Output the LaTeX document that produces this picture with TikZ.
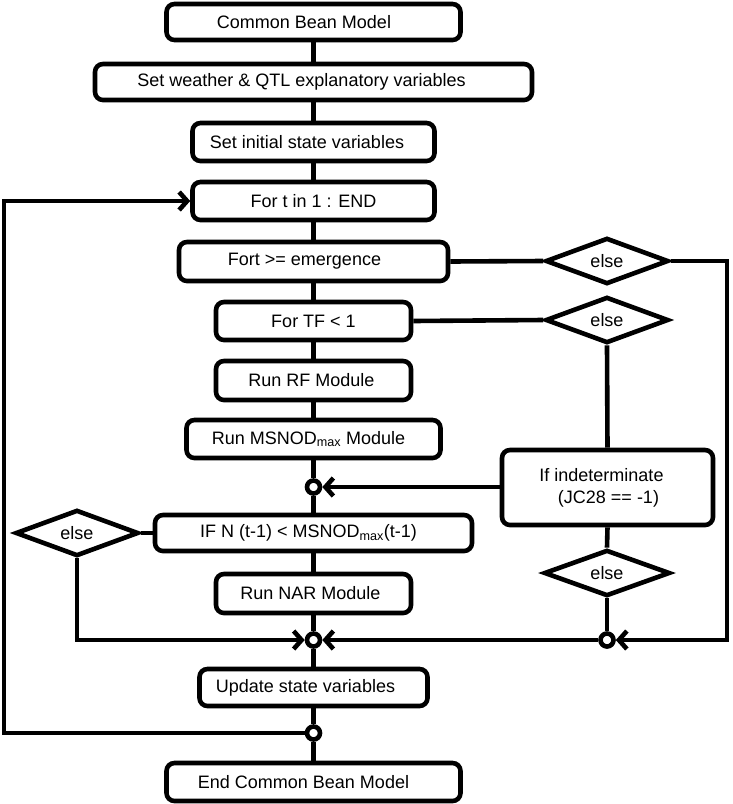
\documentclass[tikz,border=0pt]{standalone}
\usepackage{fontspec}
\setmainfont{Liberation Sans}
\usetikzlibrary{shapes.geometric,arrows.meta}
\begin{document}
\begin{tikzpicture}[x=1pt,y=-1pt,
  line width=4.6pt,
  box/.style={draw, rounded corners=8pt, inner sep=0pt, font=\fontsize{18}{22}\selectfont},
  dia/.style={draw, diamond, inner sep=0pt, font=\fontsize{18}{22}\selectfont},
  junc/.style={draw, circle, fill=white, minimum size=13pt, inner sep=0pt},
  arr/.style={-{Straight Barb[length=8pt,width=18pt]}}
]
\useasboundingbox (0,0) rectangle (733,804);
% main column
\node[box, minimum width=294pt, minimum height=36pt] (b1) at (313.5,22) {Common Bean Model\hspace*{19pt}};
\node[box, minimum width=437pt, minimum height=36pt] (b2) at (313.5,82) {Set weather \& QTL explanatory variables\hspace*{24pt}};
\node[box, minimum width=242pt, minimum height=38pt] (b3) at (313.5,142) {Set initial state variables\hspace*{13pt}};
\node[box, minimum width=242pt, minimum height=38pt] (b4) at (313.5,201) {For t in 1 : END};
\node[box, minimum width=269pt, minimum height=39pt] (b5) at (313.5,261.5) {Fort >= emergence\hspace*{18pt}};
\node[box, minimum width=195pt, minimum height=38pt] (b6) at (313.5,321) {For TF < 1};
\node[box, minimum width=195pt, minimum height=39pt] (b7) at (313.5,380.5) {Run RF Module\hspace*{4pt}};
\node[box, minimum width=254pt, minimum height=38pt] (b8) at (313.5,439) {Run MSNOD\textsubscript{max} Module\hspace*{10pt}};
\node[junc] (c1) at (313.5,487) {};
\node[box, minimum width=317pt, minimum height=36pt] (b9) at (313.5,533) {IF N (t-1) < MSNOD\textsubscript{max}(t-1)\hspace*{10pt}};
\node[box, minimum width=195pt, minimum height=39pt] (b10) at (313.5,593.5) {Run NAR Module\hspace*{6pt}};
\node[junc] (c2) at (313.5,640) {};
\node[box, minimum width=228pt, minimum height=37pt] (b11) at (313.5,687.5) {Update state variables\hspace*{16pt}};
\node[junc] (c3) at (313.5,733) {};
\node[box, minimum width=294pt, minimum height=38pt] (b12) at (313.5,782) {End Common Bean Model\hspace*{20pt}};
% right side
\node[dia, minimum width=123pt, minimum height=41pt] (d1) at (607,261) {else};
\node[dia, minimum width=123pt, minimum height=38pt] (d2) at (607,320) {else};
\node[box, minimum width=211pt, minimum height=75pt, align=center] (bi) at (607.5,487.5) {If indeterminate\hspace*{12pt}\\\hspace*{2pt}(JC28 == -1)};
\node[dia, minimum width=126pt, minimum height=36pt] (d3) at (607,573) {else};
\node[junc] (c2r) at (607,640) {};
% left side
\node[dia, minimum width=123pt, minimum height=36pt] (dl) at (77,533) {else};
\coordinate (lx) at (4,0);
\coordinate (rx) at (727,0);
% connectors main column
\draw (b1.south) -- (b2.north);
\draw (b2.south) -- (b3.north);
\draw (b3.south) -- (b4.north);
\draw (b4.south) -- (b5.north);
\draw (b5.south) -- (b6.north);
\draw (b6.south) -- (b7.north);
\draw (b7.south) -- (b8.north);
\draw (b8.south) -- (c1.north);
\draw (c1.south) -- (b9.north);
\draw (b9.south) -- (b10.north);
\draw (b10.south) -- (c2.north);
\draw (c2.south) -- (b11.north);
\draw (b11.south) -- (c3.north);
\draw (c3.south) -- (b12.north);
% loop back
\draw[arr] (c3.west) -- (c3 -| lx) |- (b4.west);
% right branches
\draw (b5.east) -- (d1.west);
\draw[arr] (d1.east) -- (d1.east -| rx) |- (c2r.east);
\draw (b6.east) -- (d2.west);
\draw (d2.south) -- (bi.north);
\draw[arr] (c1 -| bi.west) -- (c1.east);
\draw (bi.south) -- (d3.north);
\draw (d3.south) -- (c2r.north);
\draw[arr] (c2r.west) -- (c2.east);
% left branch
\draw (b9.west) -- (dl.east);
\draw[arr] (dl.south) |- (c2.west);
\end{tikzpicture}
\end{document}
